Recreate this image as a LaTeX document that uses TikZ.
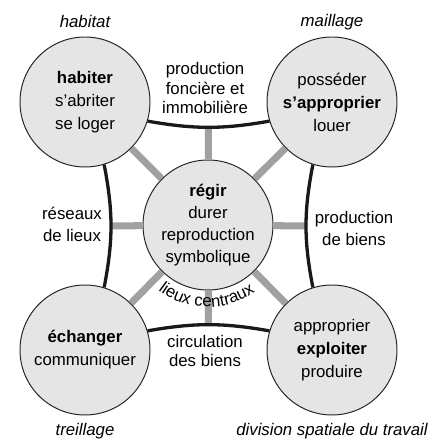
\documentclass[tikz,border=0pt]{standalone}
\usepackage{fontspec}
\setmainfont{Liberation Sans}

\begin{document}
\begin{tikzpicture}[
  txt/.style={align=center,font=\fontsize{11.95pt}{13.9pt}\selectfont},
  pole/.style={circle,draw=black!85,line width=0.7pt,fill=black!10,minimum size=3.25cm,inner sep=0pt,align=center,font=\fontsize{11.95pt}{16.4pt}\selectfont},
  lien/.style={draw=black!37,line width=5pt},
  bord/.style={draw=black!90,line width=2.35pt},
  lettre/.style={anchor=base,inner sep=0pt,font=\fontsize{11.95pt}{14pt}\selectfont},
  titre/.style={font=\fontsize{11.95pt}{14pt}\selectfont\itshape}]
\useasboundingbox (0,0) rectangle (11.05,11.025);

\node[pole] (hab) at (2.125,8.475) {\textbf{habiter}\\s’abriter\\se loger};
\node[pole] (pos) at (8.3,8.475) {posséder\\\textbf{s’approprier}\\louer};
\node[pole] (ech) at (2.125,2.275) {\textbf{échanger}\\communiquer};
\node[pole] (exp) at (8.3,2.275) {approprier\\\textbf{exploiter}\\produire};
\node[pole,font=\fontsize{11.95pt}{15.65pt}\selectfont] (reg) at (5.2,5.4) {\textbf{régir}\\durer\\reproduction\\symbolique};

\path (hab.-17) to[bend right=10] coordinate[midway] (haut) (pos.197);
\path (hab.-73) to[bend left=11] coordinate[midway] (gauche) (ech.73);
\path (pos.253) to[bend right=11] coordinate[midway] (droite) (exp.107);
\path (ech.17) to[bend left=10] coordinate[midway] (bas) (exp.163);

\draw[lien] (reg) -- (hab);
\draw[lien] (reg) -- (pos);
\draw[lien] (reg) -- (ech);
\draw[lien] (reg) -- (exp);
\draw[lien] (reg) -- (haut);
\draw[lien] (reg) -- (gauche);
\draw[lien] (reg) -- (droite);
\draw[lien] (reg) -- (bas);

\draw[bord] (hab.-17) to[bend right=10] (pos.197);
\draw[bord] (hab.-73) to[bend left=11] (ech.73);
\draw[bord] (pos.253) to[bend right=11] (exp.107);
\draw[bord] (ech.17) to[bend left=10] (exp.163);

\node[txt] (fonc) at (5.125,8.825) {production\\foncière et\\immobilière};
\node[txt,font=\fontsize{11.95pt}{15.65pt}\selectfont] (res) at (1.8,5.425) {réseaux\\de lieux};
\node[txt,font=\fontsize{11.95pt}{15.65pt}\selectfont] (bien) at (8.85,5.325) {production\\de biens};
\node[txt] (circ) at (5.125,2.25) {circulation\\des biens};

% lieux centraux, lettre par lettre sous le cercle central
\foreach \c/\a [count=\i] in {l/-126.2,i/-123.6,e/-118.8,u/-112.3,x/-106.1,
    c/-96.9,e/-90.6,n/-84.2,t/-79.3,r/-75.7,a/-70.5,u/-64.0,x/-57.9}
  \node[lettre,rotate=\a+90] (l\i) at ([shift={(\a:2.05cm)}]reg.center) {\c};

\node[titre] (habitat) at (2.125,10.475) {habitat};
\node[titre] (maillage) at (8.3,10.475) {maillage};
\node[titre] (treillage) at (2.125,0.25) {treillage};
\node[titre] (division) at (8.3,0.25) {division spatiale du travail};
\end{tikzpicture}
\end{document}
